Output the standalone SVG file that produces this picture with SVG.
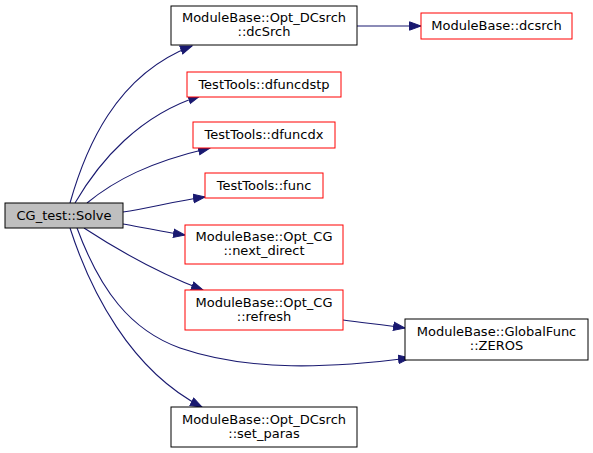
<svg xmlns="http://www.w3.org/2000/svg" width="593" height="453" viewBox="0 0 593 453">
<style>
text{font-family:"DejaVu Sans",sans-serif;font-size:13px;fill:#000;text-anchor:middle}
.n rect{fill:#fff;stroke:#000;stroke-width:1}
.r rect{stroke:#ff0000}
.e path{fill:none;stroke:#191970;stroke-width:1.1}
</style>
<defs>
<marker id="a" markerUnits="userSpaceOnUse" markerWidth="14" markerHeight="12" refX="12" refY="5" orient="auto">
<path d="M0.5,0.8 L12,5 L0.5,9.2 Z" fill="#191970" stroke="#191970" stroke-width="1"/>
</marker>
</defs>
<rect width="593" height="453" fill="#fff"/>
<g class="e" id="edges">
<path d="M70,203 C85,150 115,75 192,46" marker-end="url(#a)"/>
<path d="M75,203 C100,160 140,115 200,96" marker-end="url(#a)"/>
<path d="M87,203 C115,180 150,162 210,148" marker-end="url(#a)"/>
<path d="M123,212 C150,208 175,201 205,197" marker-end="url(#a)"/>
<path d="M123,224 C145,228 165,232 185,235" marker-end="url(#a)"/>
<path d="M84,228 C110,245 150,270 203,290" marker-end="url(#a)"/>
<path d="M77,228 C100,290 130,330 180,348 C250,372 330,368 410,358" marker-end="url(#a)"/>
<path d="M70,228 C90,290 130,370 202,407" marker-end="url(#a)"/>
<path d="M343,320 C365,323 385,325 405,328" marker-end="url(#a)"/>
<path d="M357,26 L421,26" marker-end="url(#a)"/>
</g>
<g id="solve" class="n"><rect x="5" y="203" width="118" height="25" style="fill:#bfbfbf"/><text x="64" y="220">CG_test::Solve</text></g>
<g id="dcSrch" class="n"><rect x="171" y="6" width="186" height="39"/><text x="264" y="22">ModuleBase::Opt_DCsrch</text><text x="264" y="36">::dcSrch</text></g>
<g id="dfuncdstp" class="n r"><rect x="187" y="72" width="154" height="25"/><text x="264" y="89">TestTools::dfuncdstp</text></g>
<g id="dfuncdx" class="n r"><rect x="193" y="122" width="142" height="26"/><text x="264" y="139">TestTools::dfuncdx</text></g>
<g id="func" class="n r"><rect x="205" y="173" width="118" height="25"/><text x="264" y="190">TestTools::func</text></g>
<g id="next_direct" class="n r"><rect x="185" y="225" width="158" height="39"/><text x="264" y="241">ModuleBase::Opt_CG</text><text x="264" y="255">::next_direct</text></g>
<g id="refresh" class="n r"><rect x="185" y="290" width="158" height="40"/><text x="264" y="306.5">ModuleBase::Opt_CG</text><text x="264" y="320.5">::refresh</text></g>
<g id="set_paras" class="n"><rect x="171" y="407" width="186" height="40"/><text x="264" y="423.5">ModuleBase::Opt_DCsrch</text><text x="264" y="437.5">::set_paras</text></g>
<g id="dcsrch" class="n r"><rect x="421" y="13" width="151" height="26"/><text x="496.5" y="30">ModuleBase::dcsrch</text></g>
<g id="zeros" class="n"><rect x="405" y="319" width="183" height="41"/><text x="496.5" y="336">ModuleBase::GlobalFunc</text><text x="496.5" y="350">::ZEROS</text></g>
</svg>
